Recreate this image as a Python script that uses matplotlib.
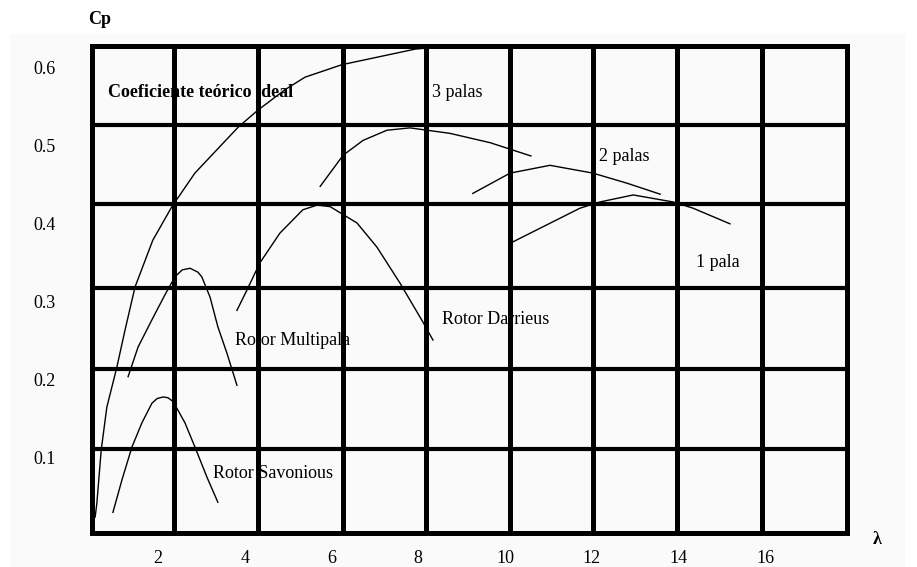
import numpy as np
import matplotlib
matplotlib.use("Agg")
import matplotlib.pyplot as plt
from matplotlib.patches import Rectangle

plt.rcParams['font.family'] = ['Liberation Serif', 'DejaVu Serif']

# curves (lambda, Cp)
ideal_x = [0.55, 0.59, 0.69, 0.82, 1.05, 1.24, 1.47, 1.88, 2.32, 2.85, 3.85, 4.31, 4.93, 5.39, 6.24, 7.93, 8.73, 10.81]
ideal_y = [0.023, 0.041, 0.109, 0.164, 0.215, 0.263, 0.318, 0.378, 0.421, 0.464, 0.523, 0.545, 0.571, 0.587, 0.603, 0.623, 0.627, 0.627]

savonius_x = [0.96, 1.17, 1.40, 1.63, 1.86, 1.98, 2.12, 2.23, 2.35, 2.62, 2.85, 3.13, 3.38]
savonius_y = [0.029, 0.071, 0.113, 0.144, 0.169, 0.175, 0.177, 0.176, 0.171, 0.144, 0.113, 0.074, 0.042]

multipala_x = [1.31, 1.54, 1.86, 2.16, 2.39, 2.56, 2.74, 2.92, 3.01, 3.20, 3.38, 3.59, 3.82]
multipala_y = [0.203, 0.241, 0.276, 0.308, 0.331, 0.340, 0.342, 0.337, 0.331, 0.305, 0.267, 0.233, 0.192]

darrieus_x = [3.82, 4.05, 4.35, 4.81, 5.34, 5.67, 5.97, 6.59, 7.05, 7.58, 8.11, 8.34]
darrieus_y = [0.288, 0.314, 0.349, 0.387, 0.417, 0.423, 0.421, 0.400, 0.369, 0.323, 0.273, 0.250]

palas3_x = [5.74, 6.27, 6.73, 7.28, 7.81, 8.73, 9.66, 10.60]
palas3_y = [0.447, 0.487, 0.506, 0.519, 0.522, 0.515, 0.503, 0.486]

palas2_x = [9.26, 10.12, 11.04, 12.03, 12.82, 13.58]
palas2_y = [0.438, 0.464, 0.474, 0.464, 0.451, 0.437]

pala1_x = [10.19, 11.73, 12.19, 12.96, 13.88, 14.34, 15.19]
pala1_y = [0.376, 0.419, 0.427, 0.436, 0.427, 0.419, 0.399]

# grid of the drawing (not aligned with the tick labels in the original)
grid_x = [2.37, 4.31, 6.27, 8.18, 10.12, 12.03, 13.97, 15.93]
grid_y = [0.110, 0.213, 0.317, 0.424, 0.526]

x_ticks = [2, 4, 6, 8, 10, 12, 14, 16]
y_ticks = [0.1, 0.2, 0.3, 0.4, 0.5, 0.6]

fig = plt.figure(figsize=(9.17, 5.67), dpi=100)
fig.patches.append(Rectangle((0.011, 0.0), 0.976, 0.94, transform=fig.transFigure,
                             facecolor='#fafafa', edgecolor='none', zorder=-5))
ax = fig.add_axes([0.1003, 0.0600, 0.8234, 0.8589])
ax.set_facecolor('#fafafa')
ax.set_xlim(0.477, 17.89)
ax.set_ylim(0.0026, 0.627)

for gx in grid_x:
    ax.axvline(gx, color='black', lw=3.6, zorder=1)
for gy in grid_y:
    ax.axhline(gy, color='black', lw=3.0, zorder=1)
for s in ax.spines.values():
    s.set_linewidth(3.6)
    s.set_zorder(3)

curves = [(ideal_x, ideal_y), (savonius_x, savonius_y), (multipala_x, multipala_y),
          (darrieus_x, darrieus_y), (palas3_x, palas3_y), (palas2_x, palas2_y),
          (pala1_x, pala1_y)]
for cx, cy in curves:
    ax.plot(cx, cy, color='black', lw=1.0, zorder=2, clip_on=False, solid_joinstyle='round')

ax.set_xticks(x_ticks)
ax.set_xticklabels([str(t) for t in x_ticks])
ax.set_yticks(y_ticks)
ax.set_yticklabels([f"{t:.1f}" for t in y_ticks])
ax.tick_params(length=0, labelsize=13)
ax.tick_params(axis='x', pad=12)
ax.tick_params(axis='y', pad=26)

fs = 13
ax.text(0.85, 0.568, "Coeficiente teórico ideal", fontsize=fs, fontweight='bold', va='center', zorder=4)
ax.text(8.32, 0.567, "3 palas", fontsize=fs, va='center', zorder=4)
ax.text(12.17, 0.485, "2 palas", fontsize=fs, va='center', zorder=4)
ax.text(14.41, 0.349, "1 pala", fontsize=fs, va='center', zorder=4)
ax.text(8.55, 0.276, "Rotor Darrieus", fontsize=fs, va='center', zorder=4)
ax.text(3.78, 0.249, "Rotor Multipala", fontsize=fs, va='center', zorder=4)
ax.text(3.27, 0.079, "Rotor Savonious", fontsize=fs, va='center', zorder=4)

fig.text(100 / 917, 1 - 19 / 567, "Cp", fontsize=13, fontweight='bold', ha='center', va='center')
fig.text(877 / 917, 1 - 540 / 567, "λ", fontsize=13, fontweight='bold', ha='center', va='center')

fig.savefig("out.png", dpi=100)
